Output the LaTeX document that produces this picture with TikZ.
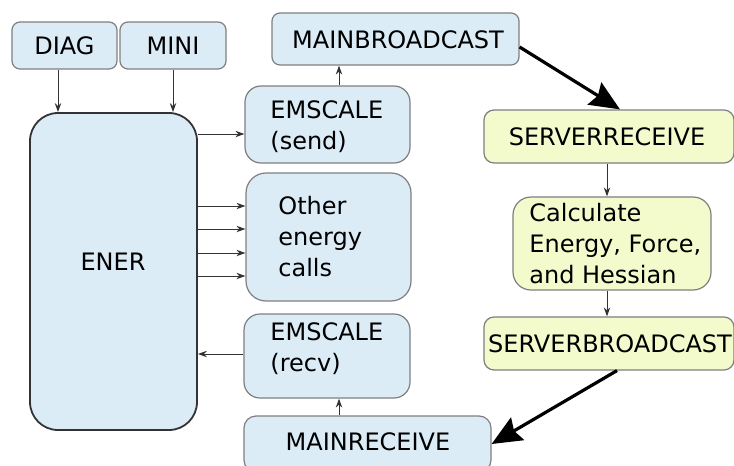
\documentclass[tikz,border=0pt]{standalone}
\usepackage{fontspec}
\setmainfont{DejaVu Sans}
\usetikzlibrary{arrows.meta,fit}
\definecolor{bfill}{HTML}{DCECF6}
\definecolor{yfill}{HTML}{F3FBCD}
\definecolor{bord}{HTML}{7F7F7F}
\begin{document}
\begin{tikzpicture}[x=0.5pt,y=-0.5pt,font=\fontsize{12}{15.5}\selectfont,
  bbox/.style={draw=bord, line width=0.6pt, fill=bfill, inner sep=0pt, rounded corners=4pt},
  ybox/.style={draw=bord, line width=0.6pt, fill=yfill, inner sep=0pt, rounded corners=5pt},
  txt/.style={anchor=west, align=left, inner sep=0pt},
  ctxt/.style={anchor=center, inner sep=0pt},
  tarr/.style={draw=black!80, line width=0.5pt, -{Stealth[length=4.5pt,width=3.2pt]}},
  thk/.style={draw=black, line width=1.6pt, -{Stealth[length=15pt,width=13pt,inset=2pt]}}]
\useasboundingbox (0,0) rectangle (734,466);
\fill[white] (0,0) rectangle (734,466);
% boxes
\node[bbox, fit={(12,22)(117,69)}] (diag) {};
\node[ctxt] (diagt) at (64.5,46) {DIAG};
\node[bbox, fit={(120,22)(226,69)}] (mini) {};
\node[ctxt] (minit) at (173,46) {MINI};
\node[bbox, draw=black!80, line width=0.9pt, rounded corners=14pt, fit={(30,113)(197,430)}] (ener) {};
\node[ctxt] (enert) at (113,262) {ENER};
\node[bbox, fit={(272,13)(519,65)}] (mbc) {};
\node[ctxt] (mbct) at (398,40) {MAINBROADCAST};
\node[bbox, rounded corners=8pt, fit={(245,86)(410,163)}] (send) {};
\node[txt] (sendt) at (270,127) {EMSCALE\\(send)};
\node[bbox, rounded corners=10pt, fit={(246,173)(411,301)}] (other) {};
\node[txt] (othert) at (278,237) {Other\\energy\\calls};
\node[bbox, rounded corners=8pt, fit={(244,314)(410,398)}] (recv) {};
\node[txt] (recvt) at (270,349) {EMSCALE\\(recv)};
\node[bbox, rounded corners=6pt, fit={(244,416)(491,472)}] (mrecv) {};
\node[ctxt] (mrecvt) at (368,442) {MAINRECEIVE};
\node[ybox, fit={(484,110)(734,163)}] (srecv) {};
\node[ctxt] (srecvt) at (607,137) {SERVERRECEIVE};
\node[ybox, rounded corners=9pt, fit={(513,197)(711,290)}] (calc) {};
\node[txt] (calct) at (529,244) {Calculate\\Energy, Force,\\and Hessian};
\node[ybox, fit={(484,317)(734,370)}] (sbc) {};
\node[ctxt] (sbct) at (610,344) {SERVERBROADCAST};
% helper coordinates
\coordinate (x58) at (58,0);
\coordinate (x173) at (173,0);
\coordinate (x339) at (339,0);
\coordinate (x607) at (607,0);
\coordinate (x617) at (617,0);
\coordinate (x620) at (620,0);
\coordinate (y134) at (0,134);
\coordinate (y206) at (0,206);
\coordinate (y229) at (0,229);
\coordinate (y253) at (0,253);
\coordinate (y276) at (0,276);
\coordinate (y354) at (0,354);
\coordinate (y47) at (0,47);
% thin arrows
\draw[tarr] (diag.south -| x58) -- (ener.north -| x58);
\draw[tarr] (mini.south -| x173) -- (ener.north -| x173);
\draw[tarr] (ener.east |- y134) -- (send.west |- y134);
\foreach \yy in {y206,y229,y253,y276}
  \draw[tarr] (ener.east |- \yy) -- (other.west |- \yy);
\draw[tarr] (recv.west |- y354) -- (ener.east |- y354);
\draw[tarr] (mrecv.north -| x339) -- (recv.south -| x339);
\draw[tarr] (send.north -| x339) -- (mbc.south -| x339);
\draw[tarr] (srecv.south -| x607) -- (calc.north -| x607);
\draw[tarr] (calc.south -| x607) -- (sbc.north -| x607);
% thick arrows
\draw[thk] (mbc.east |- y47) -- (srecv.north -| x620);
\draw[thk] (sbc.south -| x617) -- (mrecv.east);
\end{tikzpicture}
\end{document}
